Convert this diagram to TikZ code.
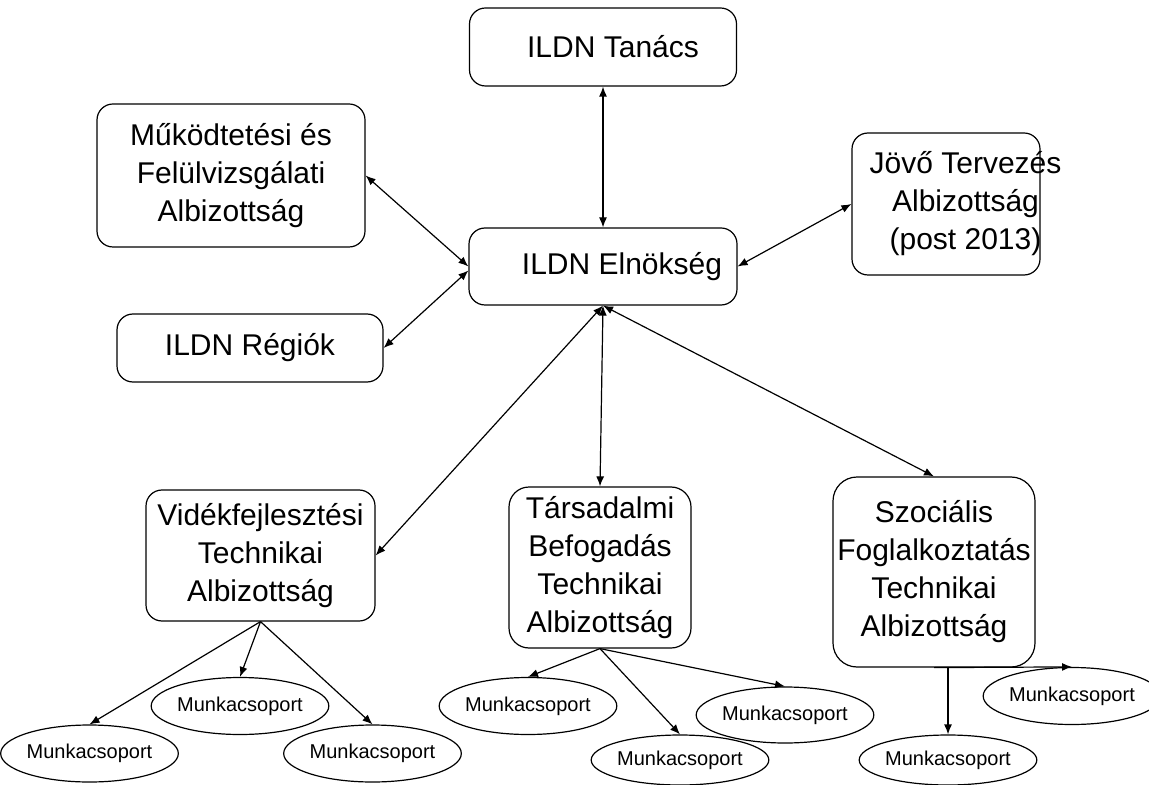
\documentclass[tikz,border=0pt]{standalone}
\usepackage{fontspec}
\setmainfont{Liberation Sans}
\usetikzlibrary{arrows.meta, shapes.geometric}

\begin{document}
\begin{tikzpicture}[x=0.5pt,y=-0.5pt,>={Latex[length=5pt,width=4pt]},line width=0.6pt,
    box/.style={draw,rounded corners=8pt,align=center,inner sep=0pt,font=\fontsize{15}{19}\selectfont},
    group/.style={draw,ellipse,inner sep=0pt,minimum width=77pt,minimum height=28.5pt,font=\fontsize{10}{12}\selectfont}]
\useasboundingbox (0,0) rectangle (1149,785);
% committees
\node[box,minimum width=133.5pt,minimum height=39pt] (tanacs) at (603,47) {\hspace*{10pt}ILDN Tanács};
\node[box,minimum width=134pt,minimum height=38.5pt] (elnok) at (603,266.5) {\hspace*{19pt}ILDN Elnökség};
\node[box,minimum width=134pt,minimum height=71.5pt] (mukod) at (231,175.5) {Működtetési és\\Felülvizsgálati\\Albizottság};
\node[box,minimum width=133pt,minimum height=34pt] (regiok) at (250,348) {ILDN Régiók};
\node[box,minimum width=94pt,minimum height=71pt] (jovo) at (946,204)
    {\hspace*{8pt}\begin{tabular}{@{}c@{}}Jövő Tervezés\\Albizottság\\(post 2013)\end{tabular}\hspace*{-11.5pt}};
\node[box,minimum width=114.5pt,minimum height=65.5pt] (vid) at (260.5,555.5) {Vidékfejlesztési\\Technikai\\Albizottság};
\node[box,rounded corners=10pt,minimum width=91pt,minimum height=80.5pt] (tars) at (600,567.5) {Társadalmi\\Befogadás\\Technikai\\Albizottság};
\node[box,rounded corners=12pt,minimum width=101pt,minimum height=95pt] (szoc) at (934,572) {Szociális\\Foglalkoztatás\\Technikai\\Albizottság};
% working groups
\node[group] (v1) at (89.5,753.5) {Munkacsoport};
\node[group] (v2) at (240,706) {Munkacsoport};
\node[group] (v3) at (372.5,753.5) {Munkacsoport};
\node[group] (t1) at (528,706) {Munkacsoport};
\node[group,minimum height=25pt] (t2) at (680,760) {Munkacsoport};
\node[group,minimum height=28pt] (t3) at (785,715) {Munkacsoport};
\node[group,minimum height=25pt] (s1) at (948,760) {Munkacsoport};
\node[group,minimum width=75pt] (s2) at (1072,696) {Munkacsoport};

\path[<->]
    (tanacs) edge (elnok)
    (mukod.east) edge (elnok.west)
    (regiok.east) edge ([yshift=-2pt]elnok.west)
    (jovo.west) edge (elnok.east)
    (elnok.south) edge (vid.east)
             edge (tars.north)
             edge (szoc.north);
\path[->]
    (vid.south) edge (v1.north)
            edge (v2.north)
            edge (v3.north)
    (tars.south) edge (t1.north)
             edge (t2.north)
             edge (t3.north)
    (szoc.south) edge (s2.north)
    (s1.north |- szoc.south) edge (s1.north);
\end{tikzpicture}
\end{document}
